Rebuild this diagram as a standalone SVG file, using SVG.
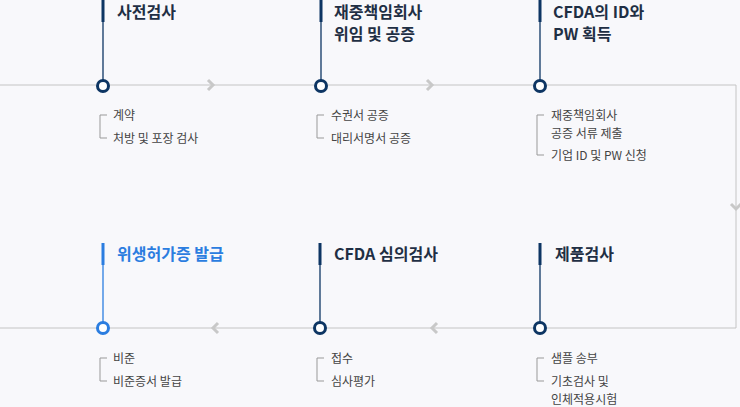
<svg xmlns="http://www.w3.org/2000/svg" width="740" height="407" viewBox="0 0 740 407">
<style>
.t{font-family:"Noto Sans CJK KR","Noto Sans",sans-serif;font-size:16px;font-weight:bold;fill:#1f2f44}
.s{font-family:"Noto Sans CJK KR","Noto Sans",sans-serif;font-size:12px;fill:#444}
.c{fill:#fff;stroke:#0d3563;stroke-width:3}
.v{stroke:#0d3563;stroke-width:1.3}
.b{stroke:#0d3563;stroke-width:3}
.k{fill:none;stroke:#999;stroke-width:1}
.ch{fill:none;stroke:#c8c8c8;stroke-width:3}
</style>
<rect width="740" height="407" fill="#f8f8fb"/>
<g id="connectors">
<path d="M0 85H736V328H0" fill="none" stroke="#c4c4c4" stroke-width="1"/>
<path class="ch" d="M208 80l5 5l-5 5"/>
<path class="ch" d="M427 80l5 5l-5 5"/>
<path class="ch" d="M731 204l5 5l5-5"/>
<path class="ch" d="M437 323l-5 5l5 5"/>
<path class="ch" d="M218 323l-5 5l5 5"/>
</g>
<g id="n1"><line class="b" x1="103" y1="0" x2="103" y2="22"/><line class="v" x1="103" y1="22" x2="103" y2="80"/><circle class="c" cx="103" cy="86" r="5.5"/>
<text class="t" x="117" y="18">사전검사</text>
<path class="k" d="M107 115H100V138H107"/><text class="s" x="113" y="120">계약</text><text class="s" x="113" y="143">처방 및 포장 검사</text></g>
<g id="n2"><line class="b" x1="321" y1="0" x2="321" y2="22"/><line class="v" x1="321" y1="22" x2="321" y2="80"/><circle class="c" cx="321" cy="86" r="5.5"/>
<text class="t" x="334" y="18">재중책임회사</text><text class="t" x="334" y="40">위임 및 공증</text>
<path class="k" d="M324 115H317V138H324"/><text class="s" x="331" y="120">수권서 공증</text><text class="s" x="331" y="143">대리서명서 공증</text></g>
<g id="n3"><line class="b" x1="540" y1="0" x2="540" y2="22"/><line class="v" x1="540" y1="22" x2="540" y2="80"/><circle class="c" cx="540" cy="86" r="5.5"/>
<text class="t" x="553" y="18">CFDA의 ID와</text><text class="t" x="553" y="40">PW 획득</text>
<path class="k" d="M544 115H537V155H544"/><text class="s" x="551" y="120">재중책임회사</text><text class="s" x="551" y="138">공증 서류 제출</text><text class="s" x="551" y="160">기업 ID 및 PW 신청</text></g>
<g id="n4"><line class="b" x1="540" y1="243" x2="540" y2="265"/><line class="v" x1="540" y1="265" x2="540" y2="322"/><circle class="c" cx="540" cy="328" r="5.5"/>
<text class="t" x="555" y="260">제품검사</text>
<path class="k" d="M544 358H537V381H544"/><text class="s" x="551" y="363">샘플 송부</text><text class="s" x="551" y="386">기초검사 및</text><text class="s" x="551" y="404">인체적용시험</text></g>
<g id="n5"><line class="b" x1="320" y1="243" x2="320" y2="265"/><line class="v" x1="320" y1="265" x2="320" y2="322"/><circle class="c" cx="320" cy="328" r="5.5"/>
<text class="t" x="334" y="260">CFDA 심의검사</text>
<path class="k" d="M324 358H317V381H324"/><text class="s" x="331" y="363">접수</text><text class="s" x="331" y="386">심사평가</text></g>
<g id="n6"><line x1="103" y1="243" x2="103" y2="265" stroke="#2b7de0" stroke-width="3"/><line x1="103" y1="265" x2="103" y2="322" stroke="#2b7de0" stroke-width="1.3"/><circle cx="103" cy="328" r="5.5" fill="#fff" stroke="#2b7de0" stroke-width="3"/>
<text class="t" x="117" y="260" style="fill:#2b7de0">위생허가증 발급</text>
<path class="k" d="M107 358H100V381H107"/><text class="s" x="113" y="363">비준</text><text class="s" x="113" y="386">비준증서 발급</text></g>
</svg>
